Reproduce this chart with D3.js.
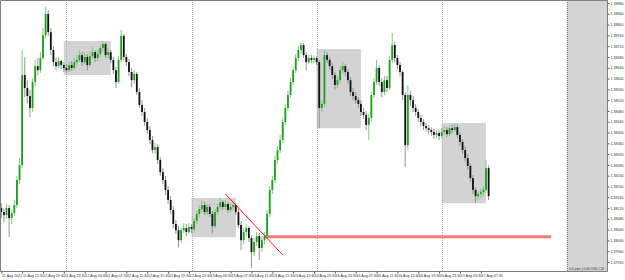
<!DOCTYPE html>
<html>
<head>
<meta charset="utf-8">
<script src="https://cdn.jsdelivr.net/npm/d3@7"></script>
<style>
  html, body { margin: 0; padding: 0; background: #fff; }
  svg { display: block; }
  .axis text { font-family: "Liberation Sans", Arial, sans-serif; font-size: 3.6px; fill: #333; }
  .axis line { stroke: #555; }
</style>
</head>
<body>
<div id="chart-container"></div>
<script>
// M30 bars, 11 Aug 2021 11:30 -> 17 Aug 2021 09:00
const firstOpen = 1.38120;
const closes = [
  1.38105, 1.38094, 1.38120, 1.38083, 1.38101, 1.38131, 1.38224, 1.38279, 1.38613, 1.38565,
  1.38535, 1.38491, 1.38587, 1.38646, 1.38631, 1.38676, 1.38761, 1.38839, 1.38772, 1.38706,
  1.38661, 1.38646, 1.38665, 1.38650, 1.38639, 1.38631, 1.38650, 1.38639, 1.38661, 1.38669,
  1.38687, 1.38661, 1.38680, 1.38650, 1.38683, 1.38698, 1.38676, 1.38691, 1.38713, 1.38728,
  1.38687, 1.38698, 1.38669, 1.38631, 1.38587, 1.38669, 1.38758, 1.38680, 1.38661, 1.38624,
  1.38594, 1.38617, 1.38550, 1.38502, 1.38476, 1.38439, 1.38409, 1.38372, 1.38335, 1.38346,
  1.38298, 1.38253, 1.38224, 1.38187, 1.38150, 1.38113, 1.38061, 1.38038, 1.38001, 1.38038,
  1.38046, 1.38031, 1.38050, 1.38042, 1.38072, 1.38098, 1.38116, 1.38131, 1.38105, 1.38124,
  1.38098, 1.38053, 1.38105, 1.38124, 1.38142, 1.38124, 1.38135, 1.38113, 1.38124, 1.38131,
  1.38105, 1.38057, 1.38001, 1.38031, 1.38046, 1.38009, 1.37957, 1.37994, 1.38016, 1.37972,
  1.38001, 1.38016, 1.38098, 1.38187, 1.38224, 1.38298, 1.38335, 1.38372, 1.38439, 1.38491,
  1.38539, 1.38587, 1.38631, 1.38676, 1.38706, 1.38724, 1.38687, 1.38661, 1.38676, 1.38669,
  1.38676, 1.38661, 1.38491, 1.38506, 1.38687, 1.38669, 1.38646, 1.38613, 1.38576, 1.38594,
  1.38631, 1.38646, 1.38624, 1.38594, 1.38550, 1.38535, 1.38520, 1.38506, 1.38476, 1.38465,
  1.38428, 1.38454, 1.38539, 1.38587, 1.38639, 1.38587, 1.38550, 1.38594, 1.38565, 1.38669,
  1.38724, 1.38676, 1.38650, 1.38624, 1.38539, 1.38353, 1.38539, 1.38520, 1.38491, 1.38476,
  1.38454, 1.38439, 1.38424, 1.38416, 1.38409, 1.38402, 1.38391, 1.38398, 1.38387, 1.38402,
  1.38409, 1.38394, 1.38416, 1.38409, 1.38420, 1.38391, 1.38365, 1.38335, 1.38305, 1.38276,
  1.38231, 1.38187, 1.38164, 1.38172, 1.38179, 1.38187, 1.38268, 1.38164
];
const highs = [
  1.38138, 1.38116, 1.38135, 1.38131, 1.38113, 1.38150, 1.38239, 1.38305, 1.38706, 1.38680,
  1.38594, 1.38557, 1.38602, 1.38669, 1.38676, 1.38698, 1.38787, 1.38865, 1.38854, 1.38787,
  1.38720, 1.38676, 1.38680, 1.38669, 1.38661, 1.38654, 1.38661, 1.38665, 1.38676, 1.38687,
  1.38706, 1.38698, 1.38698, 1.38691, 1.38702, 1.38717, 1.38706, 1.38709, 1.38724, 1.38739,
  1.38735, 1.38713, 1.38706, 1.38680, 1.38643, 1.38683, 1.38780, 1.38765, 1.38691, 1.38672,
  1.38639, 1.38631, 1.38624, 1.38565, 1.38520, 1.38491, 1.38454, 1.38424, 1.38387, 1.38361,
  1.38357, 1.38309, 1.38268, 1.38239, 1.38201, 1.38164, 1.38127, 1.38075, 1.38053, 1.38046,
  1.38064, 1.38061, 1.38064, 1.38061, 1.38083, 1.38109, 1.38131, 1.38146, 1.38142, 1.38135,
  1.38135, 1.38109, 1.38116, 1.38135, 1.38157, 1.38150, 1.38150, 1.38142, 1.38138, 1.38146,
  1.38138, 1.38116, 1.38072, 1.38046, 1.38061, 1.38053, 1.38020, 1.38009, 1.38031, 1.38027,
  1.38016, 1.38031, 1.38113, 1.38201, 1.38239, 1.38313, 1.38350, 1.38391, 1.38454, 1.38506,
  1.38557, 1.38602, 1.38646, 1.38691, 1.38720, 1.38735, 1.38732, 1.38698, 1.38687, 1.38687,
  1.38687, 1.38683, 1.38669, 1.38520, 1.38706, 1.38698, 1.38680, 1.38657, 1.38624, 1.38609,
  1.38646, 1.38661, 1.38654, 1.38635, 1.38606, 1.38565, 1.38550, 1.38531, 1.38520, 1.38491,
  1.38479, 1.38468, 1.38550, 1.38602, 1.38669, 1.38650, 1.38602, 1.38609, 1.38609, 1.38683,
  1.38769, 1.38735, 1.38687, 1.38661, 1.38631, 1.38550, 1.38576, 1.38554, 1.38535, 1.38506,
  1.38487, 1.38465, 1.38450, 1.38435, 1.38428, 1.38420, 1.38413, 1.38409, 1.38409, 1.38416,
  1.38424, 1.38420, 1.38428, 1.38431, 1.38435, 1.38431, 1.38402, 1.38376, 1.38350, 1.38320,
  1.38287, 1.38242, 1.38198, 1.38183, 1.38194, 1.38201, 1.38298, 1.38279
];
const lows = [
  1.38083, 1.38068, 1.38079, 1.38012, 1.38061, 1.38090, 1.38120, 1.38209, 1.38268, 1.38531,
  1.38509, 1.38457, 1.38476, 1.38572, 1.38613, 1.38620, 1.38669, 1.38750, 1.38758, 1.38687,
  1.38646, 1.38631, 1.38639, 1.38635, 1.38624, 1.38620, 1.38624, 1.38628, 1.38631, 1.38650,
  1.38661, 1.38646, 1.38654, 1.38631, 1.38643, 1.38672, 1.38661, 1.38665, 1.38680, 1.38698,
  1.38676, 1.38676, 1.38657, 1.38617, 1.38565, 1.38580, 1.38661, 1.38669, 1.38646, 1.38609,
  1.38568, 1.38580, 1.38539, 1.38491, 1.38461, 1.38424, 1.38394, 1.38357, 1.38324, 1.38320,
  1.38283, 1.38239, 1.38209, 1.38168, 1.38135, 1.38098, 1.38046, 1.38024, 1.37975, 1.37990,
  1.38027, 1.38016, 1.38024, 1.38027, 1.38031, 1.38061, 1.38087, 1.38105, 1.38094, 1.38094,
  1.38087, 1.38027, 1.38046, 1.38094, 1.38116, 1.38113, 1.38113, 1.38101, 1.38105, 1.38113,
  1.38094, 1.38046, 1.37964, 1.37986, 1.38016, 1.37994, 1.37898, 1.37942, 1.37979, 1.37927,
  1.37957, 1.37986, 1.38005, 1.38087, 1.38172, 1.38213, 1.38283, 1.38324, 1.38361, 1.38428,
  1.38479, 1.38528, 1.38576, 1.38620, 1.38665, 1.38691, 1.38676, 1.38631, 1.38654, 1.38657,
  1.38657, 1.38650, 1.38416, 1.38476, 1.38494, 1.38657, 1.38631, 1.38598, 1.38557, 1.38565,
  1.38583, 1.38620, 1.38609, 1.38580, 1.38535, 1.38520, 1.38506, 1.38491, 1.38461, 1.38450,
  1.38409, 1.38372, 1.38442, 1.38528, 1.38576, 1.38572, 1.38531, 1.38539, 1.38550, 1.38557,
  1.38657, 1.38661, 1.38635, 1.38609, 1.38520, 1.38272, 1.38335, 1.38498, 1.38476, 1.38461,
  1.38439, 1.38424, 1.38409, 1.38402, 1.38394, 1.38387, 1.38376, 1.38379, 1.38372, 1.38379,
  1.38391, 1.38383, 1.38387, 1.38398, 1.38402, 1.38379, 1.38350, 1.38320, 1.38290, 1.38261,
  1.38216, 1.38172, 1.38138, 1.38150, 1.38157, 1.38164, 1.38176, 1.38150
];

const priceTicks = [
  1.38880, 1.38840, 1.38800, 1.38760, 1.38720, 1.38680, 1.38640, 1.38600, 1.38560,
  1.38520, 1.38480, 1.38440, 1.38400, 1.38360, 1.38320, 1.38280, 1.38240, 1.38200,
  1.38160, 1.38120, 1.38080, 1.38040, 1.38000, 1.37960, 1.37920
];
const timeLabels = [
  "11 Aug 2021", "11 Aug 15:30", "11 Aug 19:30", "11 Aug 23:30",
  "12 Aug 03:30", "12 Aug 07:30", "12 Aug 11:30", "12 Aug 15:30", "12 Aug 19:30", "12 Aug 23:30",
  "13 Aug 03:30", "13 Aug 07:30", "13 Aug 11:30", "13 Aug 15:30", "13 Aug 19:30", "13 Aug 23:30",
  "16 Aug 03:30", "16 Aug 07:30", "16 Aug 11:30", "16 Aug 15:30", "16 Aug 19:30", "16 Aug 23:30",
  "17 Aug 03:30", "17 Aug 07:30"
];
const timeLabelBars = [0, 8, 16, 24, 32, 40, 48, 56, 64, 72, 80, 88, 96, 104, 112, 120,
  128, 136, 144, 152, 160, 168, 176, 184];
const daySeparatorBars = [25, 73, 121, 169, 217];

// gray rectangle objects
const boxStartBars = [24, 73, 121, 169];
const boxEndBars = [42, 90, 138, 186];
const boxTops = [1.38739, 1.38157, 1.38709, 1.38435];
const boxBottoms = [1.38613, 1.38012, 1.38416, 1.38138];

const trendBars = [86, 108];
const trendPrices = [1.38172, 1.37946];
const levelBars = [101, 211];
const levelPrice = 1.38014;
const panelStartBar = 217;
const panelText = "0.0 pips | 0.00 USD | 20";

const width = 625, height = 280,
  plotRight = 607, plotBottom = 271;

const svg = d3.select("#chart-container").append("svg")
  .attr("width", width)
  .attr("height", height);

svg.append("rect")
  .attr("width", width).attr("height", height)
  .style("fill", "#fff");

const x = d3.scaleLinear().domain([0, 217]).range([1.3, 566.8]);
const y = d3.scaleLinear().domain([1.37920, 1.38880]).range([262, 3]);

svg.append("clipPath").attr("id", "plot-clip")
  .append("rect")
  .attr("x", 1).attr("y", 1)
  .attr("width", plotRight - 1).attr("height", plotBottom - 1);

const plot = svg.append("g").attr("clip-path", "url(#plot-clip)");

// rectangles
plot.selectAll("rect.box")
  .data(d3.range(boxStartBars.length))
  .enter().append("rect")
  .attr("class", "box")
  .attr("x", i => x(boxStartBars[i]))
  .attr("width", i => x(boxEndBars[i]) - x(boxStartBars[i]))
  .attr("y", i => y(boxTops[i]))
  .attr("height", i => y(boxBottoms[i]) - y(boxTops[i]))
  .style("fill", "#d3d3d3");

// right side panel
plot.append("rect")
  .attr("x", x(panelStartBar))
  .attr("y", 0)
  .attr("width", plotRight - x(panelStartBar))
  .attr("height", plotBottom)
  .style("fill", "#d4d4d4");

// period separators
plot.selectAll("line.sep")
  .data(daySeparatorBars)
  .enter().append("line")
  .attr("class", "sep")
  .attr("x1", d => Math.round(x(d)) + 0.5)
  .attr("x2", d => Math.round(x(d)) + 0.5)
  .attr("y1", 0).attr("y2", plotBottom)
  .style("stroke", (d, i) => i === daySeparatorBars.length - 1 ? "#8a8a8a" : "#b0b0b0")
  .style("stroke-width", 1)
  .style("stroke-dasharray", "1,1");

// horizontal level
plot.append("line")
  .attr("x1", x(levelBars[0])).attr("x2", x(levelBars[1]))
  .attr("y1", y(levelPrice)).attr("y2", y(levelPrice))
  .style("stroke", "#f47d7d")
  .style("stroke-width", 3);

// candles
const bars = closes.map((c, i) => ({
  i: i,
  o: i ? closes[i - 1] : firstOpen,
  h: highs[i],
  l: lows[i],
  c: c
}));
const bodyW = 1.8;

plot.selectAll("line.wick")
  .data(bars)
  .enter().append("line")
  .attr("class", "wick")
  .attr("x1", d => x(d.i)).attr("x2", d => x(d.i))
  .attr("y1", d => y(d.h)).attr("y2", d => y(d.l))
  .style("stroke", d => d.c >= d.o ? "#72c872" : "#8a8a8a")
  .style("stroke-width", 0.9);

plot.selectAll("rect.body")
  .data(bars)
  .enter().append("rect")
  .attr("class", "body")
  .attr("x", d => x(d.i) - bodyW / 2)
  .attr("width", bodyW)
  .attr("y", d => y(Math.max(d.o, d.c)))
  .attr("height", d => Math.max(0.8, Math.abs(y(d.o) - y(d.c))))
  .style("fill", d => d.c >= d.o ? "#1e9e1e" : "#111");

// trend line
plot.append("line")
  .attr("x1", x(trendBars[0])).attr("y1", y(trendPrices[0]))
  .attr("x2", x(trendBars[1])).attr("y2", y(trendPrices[1]))
  .style("stroke", "#f00")
  .style("stroke-width", 0.9);

plot.append("text")
  .attr("x", x(panelStartBar) + 2.5)
  .attr("y", plotBottom - 1.5)
  .style("font-family", "Liberation Sans, Arial, sans-serif")
  .style("font-size", "3.3px")
  .style("fill", "#333")
  .text(panelText);

// borders
svg.append("path")
  .attr("d", `M0.5,${plotBottom + 0.5}V0.5H${plotRight + 0.5}V${plotBottom + 0.5}H0.5`)
  .style("fill", "none")
  .style("stroke", "#808080");

// price axis
const yAxis = d3.axisRight(y)
  .tickValues(priceTicks)
  .tickSize(2)
  .tickPadding(1)
  .tickFormat(d3.format(".5f"));

svg.append("g")
  .attr("class", "axis")
  .attr("transform", `translate(${plotRight + 0.5},0)`)
  .call(yAxis)
  .call(g => g.select(".domain").remove());

// time axis
const xAxis = d3.axisBottom(x)
  .tickValues(timeLabelBars)
  .tickSize(2)
  .tickPadding(1)
  .tickFormat((d, i) => timeLabels[i]);

svg.append("g")
  .attr("class", "axis")
  .attr("transform", `translate(0,${plotBottom + 0.5})`)
  .call(xAxis)
  .call(g => g.select(".domain").remove())
  .call(g => g.selectAll("text").attr("text-anchor", "start").attr("x", 0.3));
</script>
</body>
</html>
